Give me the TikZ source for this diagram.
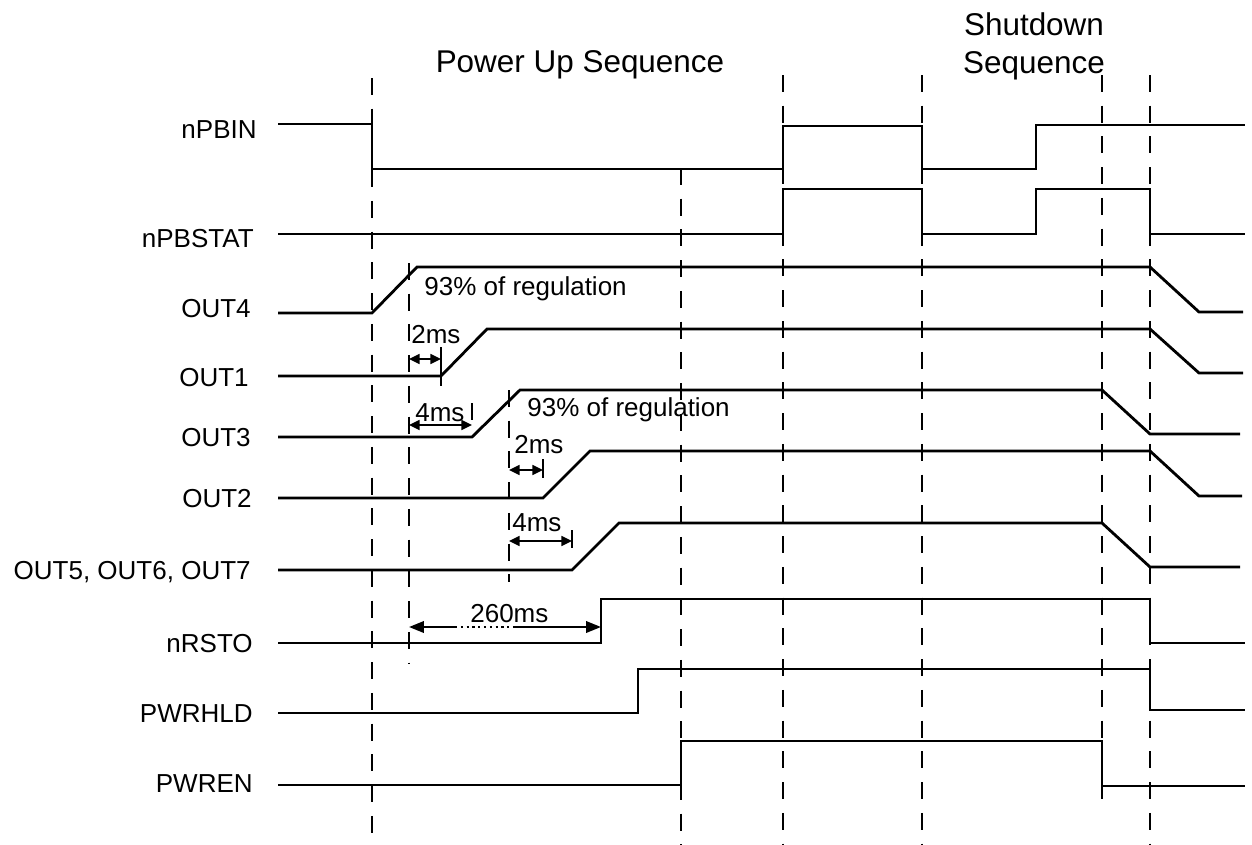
\documentclass[tikz,border=0pt]{standalone}
\usepackage{fontspec}
\setmainfont{Liberation Sans}
\usetikzlibrary{arrows.meta}
\tikzset{
  tdsig/.style={line width=1.6pt, line join=miter},
  tdmark/.style={line width=1.5pt, dash pattern=on 9.6pt off 7.9pt},
  tdtick/.style={line width=1.5pt},
  tddim/.style={{Triangle[length=6pt,width=5.5pt]}-{Triangle[length=6pt,width=5.5pt]}, line width=1.3pt},
  tdlong/.style={line width=1.3pt},
  tdlabel/.style={anchor=base east, inner sep=0pt, font=\fontsize{14.8}{17}\selectfont},
  tdnote/.style={anchor=base west, inner sep=0pt, font=\fontsize{14.8}{17}\selectfont},
  tdtitle/.style={align=center, inner sep=0pt, font=\fontsize{17.9}{21.5}\selectfont}
}
\begin{document}
\begin{tikzpicture}[x=0.02cm, y=-0.02cm]
  \useasboundingbox (0,0) rectangle (1252,845);

  % titles
  \node[tdtitle, anchor=base] (tpwrup) at (580,72) {Power Up Sequence};
  \node[tdtitle, anchor=north] (tshdn) at (1034,12.5) {Shutdown\\Sequence};

  % signal names
  \node[tdlabel] (lpbin)   at (257,138) {nPBIN};
  \node[tdlabel] (lpbstat) at (254,247) {nPBSTAT};
  \node[tdlabel] (lout4)   at (251,317) {OUT4};
  \node[tdlabel] (lout1)   at (249,386) {OUT1};
  \node[tdlabel] (lout3)   at (251,446) {OUT3};
  \node[tdlabel] (lout2)   at (252,507) {OUT2};
  \node[tdlabel] (lout5)   at (251,579) {OUT5, OUT6, OUT7};
  \node[tdlabel] (lrsto)   at (253,652) {nRSTO};
  \node[tdlabel] (lhld)    at (253,722) {PWRHLD};
  \node[tdlabel] (len)     at (253,792) {PWREN};

  % event markers
  \draw[tdmark] (372,78) -- (372,845);
  \draw[tdmark] (409,263) -- (409,664);
  \draw[tdmark] (509,390) -- (509,582);
  \draw[tdmark] (681,168) -- (681,845);
  \draw[tdmark] (783,75) -- (783,845);
  \draw[tdmark] (922,75) -- (922,845);
  \draw[tdmark] (1102,75) -- (1102,812);
  \draw[tdmark] (1150,75) -- (1150,845);

  % waveforms
  \draw[tdsig] (278,124) -- (372,124) -- (372,169) -- (783,169) -- (783,126)
    -- (922,126) -- (922,169) -- (1036,169) -- (1036,125) -- (1245,125);
  \draw[tdsig] (278,234) -- (783,234) -- (783,189) -- (922,189) -- (922,234)
    -- (1036,234) -- (1036,189) -- (1150,189) -- (1150,234) -- (1245,234);
  \draw[tdsig] (278,313) -- (372,313) -- (417,267) -- (1150,267) -- (1199,312) -- (1243,312);
  \draw[tdsig] (278,376) -- (441,376) -- (487,329) -- (1150,329) -- (1199,373) -- (1243,373);
  \draw[tdsig] (278,437) -- (472,437) -- (520,390) -- (1102,390) -- (1150,434) -- (1240,434);
  \draw[tdsig] (278,498) -- (543,498) -- (590,451) -- (1150,451) -- (1199,496) -- (1242,496);
  \draw[tdsig] (278,570) -- (572,570) -- (619,523) -- (1102,523) -- (1150,567) -- (1240,567);
  \draw[tdsig] (278,643) -- (601,643) -- (601,599) -- (1150,599) -- (1150,643) -- (1245,643);
  \draw[tdsig] (278,713) -- (638,713) -- (638,669) -- (1150,669) -- (1150,710) -- (1245,710);
  \draw[tdsig] (278,785) -- (681,785) -- (681,741) -- (1102,741) -- (1102,786) -- (1245,786);

  % delay ticks
  \draw[tdtick] (441,347) -- (441,386);
  \draw[tdtick] (472,403) -- (472,420);
  \draw[tdtick] (543,459) -- (543,478);
  \draw[tdtick] (572,530) -- (572,548);

  % delays
  \coordinate (d1a) at (409,359);  \coordinate (d1b) at (441,359);
  \coordinate (d2a) at (409,425);  \coordinate (d2b) at (472,425);
  \coordinate (d3a) at (509,470);  \coordinate (d3b) at (543,470);
  \coordinate (d4a) at (509,541);  \coordinate (d4b) at (572,541);
  \coordinate (d5a) at (409,627);  \coordinate (d5b) at (601,627);
  \coordinate (d5l) at (455,627);  \coordinate (d5r) at (515,627);
  \draw[tddim] (d1a) -- (d1b);
  \draw[tddim] (d2a) -- (d2b);
  \draw[tddim] (d3a) -- (d3b);
  \draw[tddim] (d4a) -- (d4b);
  \draw[tdlong, {Triangle[length=8.5pt,width=6.5pt]}-] (d5a) -- (d5l);
  \draw[tdlong, dotted] (d5l) -- (d5r);
  \draw[tdlong, -{Triangle[length=8.5pt,width=6.5pt]}] (d5r) -- (d5b);

  % notes
  \node[tdnote] (n93a) at (424,295) {93\% of regulation};
  \node[tdnote] (n2a)  at (411,343) {2ms};
  \node[tdnote] (n4a)  at (415,421) {4ms};
  \node[tdnote] (n93b) at (527,416) {93\% of regulation};
  \node[tdnote] (n2b)  at (514,453) {2ms};
  \node[tdnote] (n4b)  at (512,531) {4ms};
  \node[tdnote] (n260) at (470,622) {260ms};
\end{tikzpicture}
\end{document}
